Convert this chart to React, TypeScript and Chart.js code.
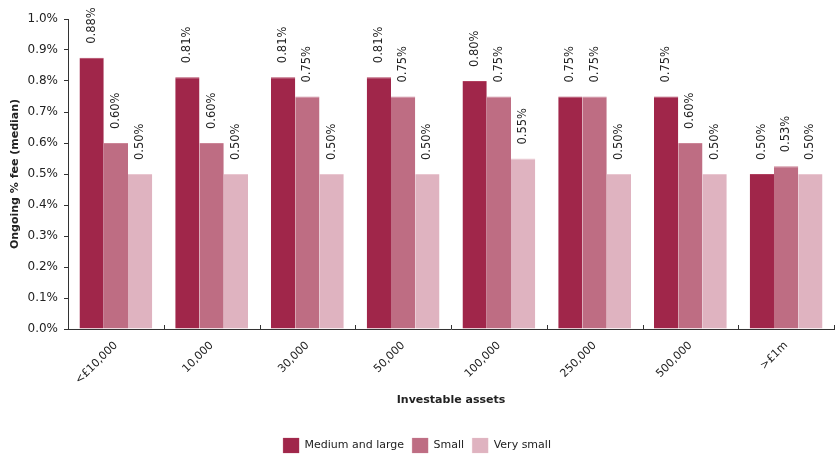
import React, { useEffect, useRef } from "react";
import { Chart, registerables } from "chart.js";

Chart.register(...registerables);

const categories = ["<£10,000", "10,000", "30,000", "50,000", "100,000", "250,000", "500,000", ">£1m"];
const mediumLarge = [0.875, 0.8125, 0.8125, 0.8125, 0.8, 0.75, 0.75, 0.5];
const small = [0.6, 0.6, 0.75, 0.75, 0.75, 0.75, 0.6, 0.525];
const verySmall = [0.5, 0.5, 0.5, 0.5, 0.55, 0.5, 0.5, 0.5];
const seriesNames = ["Medium and large", "Small", "Very small"];

const FONT = "'DejaVu Sans', Verdana, sans-serif";
const TEXT = "#222";

const labelPlugin = {
  id: "barLabels",
  afterDatasetsDraw(chart: any) {
    const ctx = chart.ctx;
    ctx.save();
    ctx.font = `11.5px ${FONT}`;
    ctx.fillStyle = TEXT;
    ctx.textAlign = "left";
    ctx.textBaseline = "middle";
    chart.data.datasets.forEach((ds: any, di: number) => {
      const meta = chart.getDatasetMeta(di);
      meta.data.forEach((el: any, i: number) => {
        const v = ds.data[i];
        ctx.save();
        ctx.translate(el.x, el.y - 14);
        ctx.rotate(-Math.PI / 2);
        ctx.fillText(v.toFixed(2) + "%", 0, 0);
        ctx.restore();
      });
    });
    ctx.restore();
  },
};

const axisTickPlugin = {
  id: "innerTicks",
  afterDraw(chart: any) {
    const ctx = chart.ctx;
    const xs = chart.scales.x;
    const bottom = chart.chartArea.bottom;
    ctx.save();
    ctx.strokeStyle = "#333";
    ctx.lineWidth = 1;
    for (let i = 0; i <= categories.length; i++) {
      const x = Math.round(xs.getPixelForValue(i - 0.5)) + 0.5;
      ctx.beginPath();
      ctx.moveTo(x, bottom);
      ctx.lineTo(x, bottom - 4);
      ctx.stroke();
    }
    ctx.restore();
  },
};

export default function App() {
  const ref = useRef<HTMLCanvasElement>(null);
  useEffect(() => {
    const chart = new Chart(ref.current!, {
      type: "bar",
      data: {
        labels: categories,
        datasets: [
          { label: seriesNames[0], data: mediumLarge, backgroundColor: "#A0264A", borderColor: "#B0405F", borderWidth: { top: 1, left: 0, right: 0, bottom: 0 } as any, borderSkipped: false as any },
          { label: seriesNames[1], data: small, backgroundColor: "#BE6D83", borderColor: "#CC8597", borderWidth: { top: 1, left: 0, right: 0, bottom: 0 } as any, borderSkipped: false as any },
          { label: seriesNames[2], data: verySmall, backgroundColor: "#DFB3C0", borderColor: "#E9C6D0", borderWidth: { top: 1, left: 0, right: 0, bottom: 0 } as any, borderSkipped: false as any },
        ],
      },
      options: {
        animation: false,
        responsive: false,
        maintainAspectRatio: false,
        layout: { padding: { top: 19, right: 4, left: 0, bottom: -9 } },
        datasets: { bar: { categoryPercentage: 0.76, barPercentage: 1 } } as any,
        plugins: {
          tooltip: { enabled: false },
          legend: {
            position: "bottom",
            labels: {
              font: { family: FONT, size: 11 },
              color: TEXT,
              boxWidth: 16,
              boxHeight: 15,
              padding: 8,
            },
          },
        },
        scales: {
          x: {
            offset: true,
            grid: { display: false, drawTicks: false },
            border: { display: true, color: "#333", width: 1 },
            ticks: {
              maxRotation: 45,
              minRotation: 45,
              padding: 10,
              font: { family: FONT, size: 11 },
              color: TEXT,
            },
            title: {
              display: true,
              text: "Investable assets",
              font: { family: FONT, size: 11, weight: "bold" },
              color: TEXT,
              padding: { top: 0, bottom: 23 },
            },
            afterFit(s: any) {
              s.height = 101;
            },
          },
          y: {
            min: 0,
            max: 1,
            grid: { display: true, drawOnChartArea: false, tickLength: 4, color: "#333" },
            border: { display: true, color: "#333", width: 1 },
            ticks: {
              stepSize: 0.1,
              padding: 6,
              font: { family: FONT, size: 12 },
              color: TEXT,
              callback: (v: any) => Number(v).toFixed(1) + "%",
            },
            title: {
              display: true,
              text: "Ongoing % fee (median)",
              font: { family: FONT, size: 11, weight: "bold" },
              color: TEXT,
              padding: { top: 9, bottom: 0 },
            },
            afterFit(s: any) {
              s.width = 68;
            },
          },
        },
      },
      plugins: [labelPlugin, axisTickPlugin],
    });
    return () => chart.destroy();
  }, []);
  return (
    <div style={{ position: "fixed", left: 0, top: 0, width: 838, height: 454, background: "#fff" }}>
      <canvas ref={ref} width={838} height={454} style={{ width: 838, height: 454 }} />
    </div>
  );
}
